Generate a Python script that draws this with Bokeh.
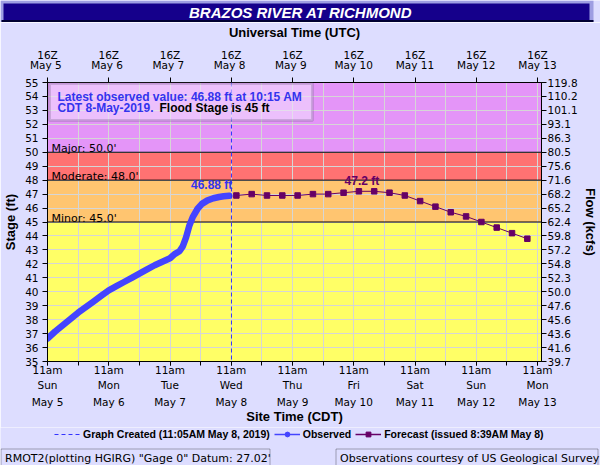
from bokeh.plotting import figure
from bokeh.layouts import column
from bokeh.models import (Range1d, LinearAxis, FixedTicker, BoxAnnotation, Span,
                          Label, Legend, LegendItem)
from bokeh.embed import file_html
from bokeh.resources import INLINE

# ---------------- data ----------------
title_text = "BRAZOS RIVER AT RICHMOND"
# time axis: hours after 11am CDT (16Z) Sun May 5 2019
obs_hours = [0, 3, 6, 9, 12, 15, 18, 21, 24, 27, 30, 33, 36, 39, 42, 45, 48,
             49.8, 51.7, 53.0, 54.3, 55.6, 56.9, 58.8, 60.5, 62.7, 65, 67.2, 69, 71.25]
obs_stage = [36.65, 37.15, 37.6, 38.05, 38.5, 38.9, 39.3, 39.7, 40.1, 40.4, 40.7,
             41.0, 41.3, 41.6, 41.9, 42.15, 42.4, 42.7, 42.9, 43.25, 43.9, 44.75,
             45.35, 45.95, 46.3, 46.55, 46.7, 46.79, 46.84, 46.88]
fc_hours = [74, 80, 86, 92, 98, 104, 110, 116, 122, 128, 134, 140, 146, 152,
            158, 164, 170, 176, 182, 188]
fc_stage = [46.9, 47.0, 46.9, 46.9, 46.9, 47.0, 47.0, 47.1, 47.2, 47.2, 47.1,
            46.9, 46.5, 46.1, 45.7, 45.4, 45.0, 44.6, 44.2, 43.8]
created_hour = 72 + 5 / 60          # 11:05 AM May 8
latest_hour, latest_stage = 71.25, 46.88
crest_hour, crest_stage = 122, 47.2
stage_min, stage_max = 35, 55

day_ticks = [0, 24, 48, 72, 96, 120, 144, 168, 192]
half_day_ticks = [0, 12, 24, 36, 48, 60, 72, 84, 96, 108, 120, 132, 144, 156,
                  168, 180, 192]
day_dates = ["May 5", "May 6", "May 7", "May 8", "May 9", "May 10", "May 11",
             "May 12", "May 13"]
utc_dates = ["May  5", "May  6", "May  7", "May  8", "May  9", "May 10",
             "May 11", "May 12", "May 13"]
weekdays = ["Sun", "Mon", "Tue", "Wed", "Thu", "Fri", "Sat", "Sun", "Mon"]

stage_ticks = list(range(35, 56))
flow_labels = ["39.7", "41.6", "43.6", "45.6", "47.6", "50.0", "52.3", "54.8",
               "57.2", "59.8", "62.4", "65.2", "68.2", "71.6", "75.6", "80.5",
               "86.3", "93.1", "101.1", "110.2", "119.8"]

flood_levels = [45.0, 48.0, 50.0]
flood_names = ["Minor", "Moderate", "Major"]
band_edges = [35, 45, 48, 50, 55]
band_colors = ["#FFFF66", "#FFC570", "#FF7272", "#E495F8"]

# ---------------- styling ----------------
BG = "#DDDDFF"
BLUE = "#4444FF"
TXTBLUE = "#3333EE"
PURPLE = "#660066"
TICKFONT = "DejaVu Sans"
BOLDFONT = "Liberation Sans"
W = 600
TOP_H, MAIN_H, BOT_H = 22, 405, 38
ML, MR, MT, MB = 45, 56, 58, 66
frame_w = W - ML - MR
px_per_hour = 495 / 192.0


def canvas_box(fig, l, r, t, b, **kw):
    fig.add_layout(BoxAnnotation(left=l, right=r, top=t, bottom=b,
                                 left_units="canvas", right_units="canvas",
                                 top_units="canvas", bottom_units="canvas", **kw))


def bare_fig(h):
    f = figure(width=W, height=h, output_backend="svg", toolbar_location=None,
               title=None, x_axis_location=None, y_axis_location=None,
               min_border=0, background_fill_color=BG, border_fill_color=BG,
               outline_line_color=None, frame_align=False,
               x_range=Range1d(0, W), y_range=Range1d(0, h))
    f.xgrid.visible = False
    f.ygrid.visible = False
    return f


# ---------------- title bar ----------------
top = bare_fig(TOP_H)
canvas_box(top, 0, 593, 0, 22, fill_color="#9E9EE2", fill_alpha=1, line_color=None)
canvas_box(top, 1, 593, 19.5, 22, fill_color="#000033", fill_alpha=1, line_color=None)
canvas_box(top, 3, 589, 3, 19.5, fill_color="#15008B", fill_alpha=1, line_color=None)
top.add_layout(Label(x=300, y=11.5, text=title_text, x_units="canvas", y_units="canvas",
                     text_align="center", text_baseline="middle", text_color="white",
                     text_font=BOLDFONT, text_font_style="bold italic",
                     text_font_size="15px"))

# ---------------- main plot ----------------
p = figure(width=W, height=MAIN_H, output_backend="svg", toolbar_location=None,
           title=None, x_range=Range1d(0, frame_w / px_per_hour),
           y_range=Range1d(stage_min, stage_max), frame_align=False,
           min_border_left=ML, min_border_right=MR, min_border_top=MT,
           min_border_bottom=MB, border_fill_color=BG,
           background_fill_color=band_colors[0], outline_line_color="black")

for lo, hi, c in zip(band_edges[:-1], band_edges[1:], band_colors):
    p.add_layout(BoxAnnotation(bottom=lo, top=hi, fill_color=c, fill_alpha=1,
                               line_color=None, level="image"))

p.xgrid.ticker = FixedTicker(ticks=half_day_ticks)
p.ygrid.ticker = FixedTicker(ticks=stage_ticks)
for g in (p.xgrid, p.ygrid):
    g.grid_line_color = "#D6D6D6"
    g.grid_line_width = 1

for lvl, name in zip(flood_levels, flood_names):
    p.add_layout(Span(location=lvl, dimension="width", line_color="black",
                      line_width=1, level="underlay"))
    p.add_layout(Label(x=0, y=lvl, x_offset=4, y_offset=4,
                       text=f"{name}: {lvl:.1f}'", text_baseline="alphabetic",
                       text_font=TICKFONT, text_font_size="11px",
                       text_color="black"))

ax_l = p.yaxis[0]
ax_l.ticker = FixedTicker(ticks=stage_ticks)
ax_l.axis_label = "Stage (ft)"
ax_b = p.xaxis[0]
ax_b.ticker = FixedTicker(ticks=day_ticks, minor_ticks=half_day_ticks)
ax_b.major_label_overrides = {t: f"11am\n{w}" for t, w in zip(day_ticks, weekdays)}

ax_r = LinearAxis(ticker=FixedTicker(ticks=stage_ticks),
                  major_label_overrides={t: f for t, f in zip(stage_ticks, flow_labels)},
                  axis_label="Flow (kcfs)")
p.add_layout(ax_r, "right")

ax_b2 = LinearAxis(ticker=FixedTicker(ticks=day_ticks),
                   major_label_overrides={t: d for t, d in zip(day_ticks, day_dates)},
                   axis_label="Site Time (CDT)")
p.add_layout(ax_b2, "below")

ax_t = LinearAxis(ticker=FixedTicker(ticks=day_ticks),
                  major_label_overrides={t: f"16Z\n{d}" for t, d in zip(day_ticks, utc_dates)},
                  axis_label="Universal Time (UTC)")
p.add_layout(ax_t, "above")

for ax in (ax_l, ax_r, ax_b, ax_b2, ax_t):
    ax.major_label_text_font = TICKFONT
    ax.major_label_text_font_size = "10.5px"
    ax.major_label_text_color = "black"
    ax.axis_line_color = "black"
    ax.major_tick_line_color = "black"
    ax.major_tick_in = 0
    ax.minor_tick_in = 0
    ax.minor_tick_out = 0
    ax.axis_label_text_font = BOLDFONT
    ax.axis_label_text_font_style = "bold"
    ax.axis_label_text_font_size = "13px"
    ax.axis_label_text_color = "black"

ax_l.major_tick_out = 5
ax_l.major_label_standoff = 4
ax_l.axis_label_standoff = 4
ax_r.major_tick_out = 5
ax_r.major_label_standoff = 1
ax_r.axis_label_standoff = 2
ax_b.major_tick_out = 4
ax_b.minor_tick_out = 4
ax_b.minor_tick_line_color = "black"
ax_b.major_label_standoff = -2
ax_b.major_label_text_line_height = 1.25
ax_b2.major_tick_out = 0
ax_b2.major_tick_line_color = None
ax_b2.axis_line_color = None
ax_b2.major_label_standoff = 2
ax_b2.major_label_text_line_height = 1.2
ax_b2.axis_label_standoff = -2
ax_t.major_tick_out = 5
ax_t.major_label_standoff = 7
ax_t.major_label_text_line_height = 0.78
ax_t.axis_label_standoff = 6

p.add_layout(Span(location=created_hour, dimension="height", line_color="#3333FF",
                  line_dash="4 3", line_width=1))
p.line(obs_hours, obs_stage, line_color=BLUE, line_width=6.5,
       line_join="round", line_cap="round")
p.line(fc_hours, fc_stage, line_color=PURPLE, line_width=1)
p.scatter(fc_hours, fc_stage, marker="square", size=5.5, color=PURPLE)

p.add_layout(Label(x=latest_hour, y=latest_stage, text=f"{latest_stage} ft",
                   text_align="right", text_baseline="bottom", x_offset=3, y_offset=4,
                   text_font=BOLDFONT, text_font_style="bold", text_font_size="12px",
                   text_color=TXTBLUE))
p.add_layout(Label(x=crest_hour, y=crest_stage, text=f"{crest_stage} ft",
                   text_align="center", text_baseline="bottom", x_offset=3, y_offset=3,
                   text_font=BOLDFONT, text_font_style="bold", text_font_size="12px",
                   text_color=PURPLE))

# info box (main canvas coords = page coords - TOP_H)
canvas_box(p, 49, 312, 61, 98, fill_color="#F2E4FF", fill_alpha=0.55,
           line_color="#76688E", line_width=3)
box_font = dict(text_font=BOLDFONT, text_font_style="bold", text_font_size="12px",
                x_units="canvas", y_units="canvas", text_baseline="middle")
p.add_layout(Label(x=57, y=74.5, text="Latest observed value:  46.88 ft at 10:15 AM",
                   text_color=TXTBLUE, **box_font))
p.add_layout(Label(x=57, y=85.5, text="CDT 8-May-2019.", text_color=TXTBLUE, **box_font))
p.add_layout(Label(x=159, y=85.5, text="Flood Stage is 45 ft", text_color="black",
                   **box_font))

# ---------------- legend + footer ----------------
bot = bare_fig(BOT_H)
lg_created = bot.line([created_hour, created_hour], [stage_min, stage_max],
                      line_color="#3333FF", line_dash="4 3", line_width=1, visible=False)
lg_obs_l = bot.line(obs_hours, obs_stage, line_color=BLUE, line_width=1.5, visible=False)
lg_obs_p = bot.scatter(obs_hours, obs_stage, marker="circle", size=7, color=BLUE,
                       visible=False)
lg_fc_l = bot.line(fc_hours, fc_stage, line_color=PURPLE, line_width=1.5, visible=False)
lg_fc_p = bot.scatter(fc_hours, fc_stage, marker="square", size=5.5, color=PURPLE,
                      visible=False)
legend = Legend(items=[
    LegendItem(label="Graph Created (11:05AM May 8, 2019)", renderers=[lg_created]),
    LegendItem(label="Observed", renderers=[lg_obs_l, lg_obs_p]),
    LegendItem(label="Forecast (issued 8:39AM May 8)", renderers=[lg_fc_l, lg_fc_p]),
], orientation="horizontal", location=(54, 25), border_line_color=None,
    background_fill_alpha=0, label_text_font=BOLDFONT, label_text_font_style="bold",
    label_text_font_size="10.5px", label_text_color="black", glyph_width=26,
    glyph_height=12, label_height=12, label_standoff=3, spacing=4, padding=1, margin=0)
bot.add_layout(legend)

for l, r, txt in ((0.5, 269.5, "RMOT2(plotting HGIRG) \"Gage 0\" Datum: 27.02'"),
                  (335.5, 597.5, "Observations courtesy of US Geological Survey")):
    canvas_box(bot, l, r, 21.5, 40, fill_color=BG, fill_alpha=1, line_color="black",
               line_width=1)
    bot.add_layout(Label(x=l + 4, y=30.5, text=txt, x_units="canvas", y_units="canvas",
                         text_baseline="middle", text_font=TICKFONT,
                         text_font_size="11px", text_color="black"))

layout = column(top, p, bot, spacing=0)
open("out.html", "w").write(file_html(layout, INLINE))
